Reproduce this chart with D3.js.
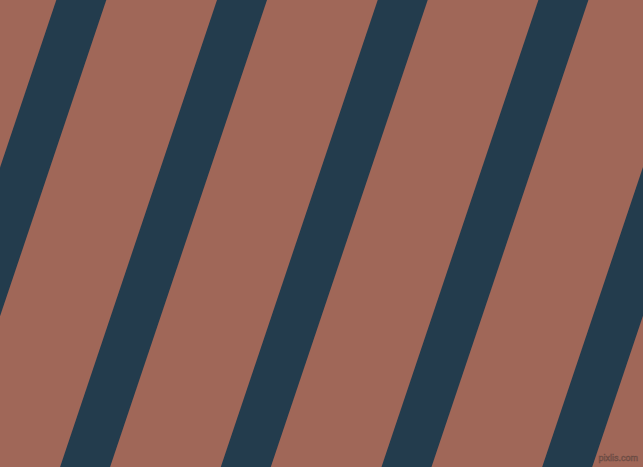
<!DOCTYPE html>
<html>
<head>
<meta charset="utf-8">
<script src="https://cdn.jsdelivr.net/npm/d3@7"></script>
<style>
html,body{margin:0;padding:0;background:#A06758;overflow:hidden;}
svg{display:block;}
</style>
</head>
<body>
<svg id="chart" width="643" height="467"></svg>
<script>
const stripeIndex = [-1, 0, 1, 2, 3, 4];
const stripeTopLeft = [56.3, 217];   // left edge of stripe 0 and 1 at the top
const stripeWidth = [50];
const slant = [0.336];               // horizontal shift per pixel down
const palette = ["#A06758", "#233C4D"];
const watermark = ["pixlis.com"];

const W = 643, H = 467;
const svg = d3.select("#chart");
const x = d3.scaleLinear().domain([0, 1]).range(stripeTopLeft);
const y = d3.scaleLinear().domain([0, 1]).range([0, H]);

svg.append("rect").attr("width", W).attr("height", H).attr("fill", palette[0]);

const line = d3.line();
svg.selectAll("path.stripe").data(stripeIndex).join("path")
  .attr("class", "stripe")
  .attr("fill", palette[1])
  .attr("d", i => {
    const x0 = x(i), w = stripeWidth[0], dx = slant[0] * H;
    return line([[x0, y(0)], [x0 + w, y(0)], [x0 + w - dx, y(1)], [x0 - dx, y(1)]]) + "Z";
  });

svg.append("text")
  .attr("x", 638).attr("y", 461)
  .attr("text-anchor", "end")
  .attr("font-family", "Liberation Sans, Arial, sans-serif")
  .attr("font-size", 9)
  .attr("fill", "#8f6257")
  .attr("stroke", "#6a4a42")
  .attr("stroke-width", 0.5)
  .text(watermark[0]);
</script>
</body>
</html>
